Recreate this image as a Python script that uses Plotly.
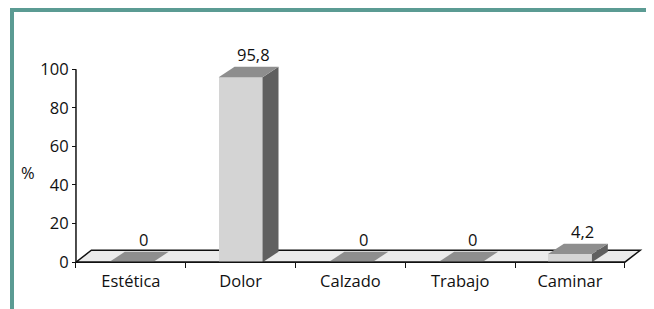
import plotly.graph_objects as go

# ---------------- data ----------------
categories = ["Estética", "Dolor", "Calzado", "Trabajo", "Caminar"]
values = [0, 95.8, 0, 0, 4.2]
value_labels = ["0", "95,8", "0", "0", "4,2"]
y_tick_values = [0, 20, 40, 60, 80, 100]
y_axis_title = "%"

# ---------------- style ----------------
PAGE_OFF = 8                      # default body margin of the html page
W, H = 654 - PAGE_OFF, 309 - PAGE_OFF
M_L, M_R, M_T, M_B = 65 - PAGE_OFF, 5, 46 - PAGE_OFF, 41
X_RANGE = [-0.6, 4.72]
Y_RANGE = [-3, 112]
BAR_W = 0.4
DX, DY = 0.145, 5.4      # bar depth (axis units)
FDX, FDY = 0.14, 6.2     # floor depth (axis units)
FRONT, TOP, SIDE = "#d4d4d4", "#8e8e8e", "#606060"
FLOOR, TEAL, INK = "#ebebeb", "#5b9b93", "#111111"
FONT = dict(family="Open Sans", size=16.5, color=INK)

n = len(categories)
xs = list(range(n))
x_lo, x_hi = -0.5, n - 0.5
y_top = max(y_tick_values)

plot_w = W - M_L - M_R
plot_h = H - M_T - M_B


def px_x(px):  # reference-image pixel -> paper fraction
    return (px - PAGE_OFF - M_L) / plot_w


def px_y(py):
    return (H - M_B - (py - PAGE_OFF)) / plot_h


fig = go.Figure()

# front faces of the bars
fig.add_trace(go.Bar(
    x=xs, y=values, width=BAR_W,
    marker=dict(color=FRONT, line=dict(width=0)),
    hoverinfo="skip", showlegend=False,
))

shapes = []
# floor (fill + back / side edges)
shapes.append(dict(
    type="path", layer="below", xref="x", yref="y",
    path=f"M {x_lo},0 L {x_hi},0 L {x_hi + FDX},{FDY} L {x_lo + FDX},{FDY} Z",
    fillcolor=FLOOR, line=dict(color=INK, width=1.5),
))

# top and side faces of the bars
for x, v in zip(xs, values):
    x0, x1 = x - BAR_W / 2, x + BAR_W / 2
    shapes.append(dict(
        type="path", layer="above", xref="x", yref="y",
        path=f"M {x1},0 L {x1 + DX},{DY} L {x1 + DX},{v + DY} L {x1},{v} Z",
        fillcolor=SIDE, line=dict(width=0),
    ))
    shapes.append(dict(
        type="path", layer="above", xref="x", yref="y",
        path=f"M {x0},{v} L {x1},{v} L {x1 + DX},{v + DY} L {x0 + DX},{v + DY} Z",
        fillcolor=TOP, line=dict(width=0),
    ))

# front edge of floor (x axis line) and y axis line
shapes.append(dict(type="line", layer="above", xref="x", yref="y",
                   x0=x_lo, x1=x_hi, y0=0, y1=0, line=dict(color=INK, width=1.5)))
shapes.append(dict(type="line", layer="above", xref="x", yref="y",
                   x0=x_lo, x1=x_lo, y0=0, y1=y_top, line=dict(color=INK, width=1.5)))

# teal frame (top and left)
shapes.append(dict(
    type="path", layer="above", xref="paper", yref="paper",
    path=f"M {px_x(12)},{px_y(320)} L {px_x(12)},{px_y(10)} L {px_x(670)},{px_y(10)}",
    line=dict(color=TEAL, width=4),
))

annotations = []
for x, v, lab in zip(xs, values, value_labels):
    annotations.append(dict(
        x=x + DX * 0.8, y=v + DY, xref="x", yref="y",
        text=lab, showarrow=False, font=FONT,
        xanchor="center", yanchor="bottom", yshift=-1,
    ))
annotations.append(dict(
    x=px_x(28), y=46.5, xref="paper", yref="y",
    text=y_axis_title, showarrow=False, font=FONT,
    xanchor="center", yanchor="middle",
))

fig.update_layout(
    width=W, height=H,
    margin=dict(l=M_L, r=M_R, t=M_T, b=M_B, pad=0),
    paper_bgcolor="white", plot_bgcolor="white",
    shapes=shapes, annotations=annotations,
    showlegend=False, bargap=0,
    xaxis=dict(
        range=X_RANGE, anchor="free",
        position=(0 - Y_RANGE[0]) / (Y_RANGE[1] - Y_RANGE[0]),
        tickmode="array", tickvals=xs, ticktext=categories,
        ticks="", showgrid=False, zeroline=False, showline=False,
        tickfont=FONT, ticklabelstandoff=7,
        minor=dict(tickmode="array", tickvals=[i - 0.5 for i in range(n + 1)],
                   ticks="outside", ticklen=5, tickwidth=1.2, tickcolor=INK,
                   showgrid=False),
        fixedrange=True,
    ),
    yaxis=dict(
        range=Y_RANGE, anchor="free",
        position=(x_lo - X_RANGE[0]) / (X_RANGE[1] - X_RANGE[0]),
        tickmode="array", tickvals=y_tick_values,
        ticks="outside", ticklen=4, tickwidth=1.2, tickcolor=INK,
        showgrid=False, zeroline=False, showline=False,
        tickfont=FONT, fixedrange=True,
    ),
)

fig.write_html("out.html")
